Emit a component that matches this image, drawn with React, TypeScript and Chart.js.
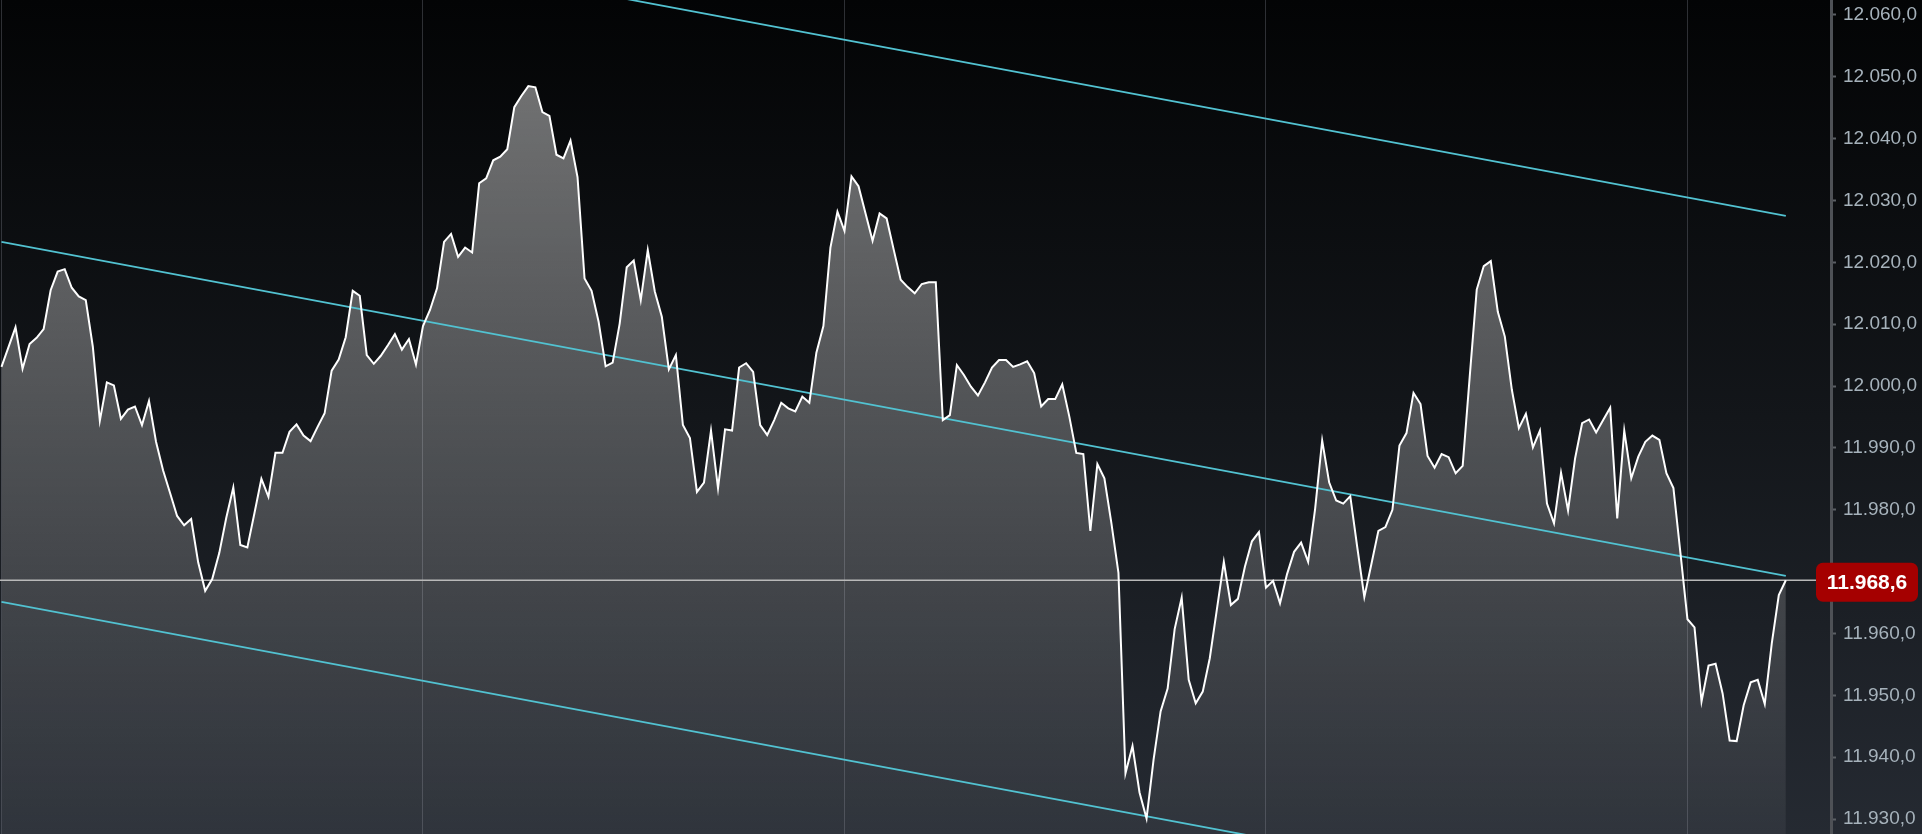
import { useEffect, useRef } from "react";
import Chart from "chart.js/auto";

// price series (one value per bar)
const prices = [
  12003.1, 12006.3, 12009.5, 12002.8, 12006.8, 12007.8, 12009.2, 12015.5, 12018.5, 12018.9,
  12015.9, 12014.5, 12013.9, 12006.4, 11994.4, 12000.6, 12000.1, 11994.7, 11996.2, 11996.7,
  11993.7, 11997.6, 11991.0, 11986.4, 11982.7, 11979.0, 11977.5, 11978.5, 11971.5, 11966.9,
  11968.8, 11973.0, 11978.7, 11983.6, 11974.3, 11973.9, 11979.4, 11985.0, 11982.1, 11989.2,
  11989.2, 11992.6, 11993.8, 11992.0, 11991.1, 11993.4, 11995.6, 12002.5, 12004.3, 12007.9,
  12015.4, 12014.6, 12005.0, 12003.6, 12004.9, 12006.6, 12008.4, 12005.9, 12007.6, 12003.5,
  12009.7, 12012.3, 12015.8, 12023.3, 12024.6, 12020.9, 12022.4, 12021.6, 12032.8, 12033.6,
  12036.5, 12037.1, 12038.3, 12045.1, 12046.9, 12048.5, 12048.3, 12044.3, 12043.7, 12037.4,
  12036.8, 12039.7, 12033.8, 12017.4, 12015.4, 12010.4, 12003.2, 12003.8, 12010.1, 12019.2,
  12020.3, 12013.9, 12022.0, 12015.3, 12011.2, 12002.7, 12005.0, 11993.7, 11991.6, 11982.9,
  11984.4, 11992.8, 11983.5, 11993.0, 11992.8, 12003.0, 12003.7, 12002.3, 11993.7, 11992.1,
  11994.5, 11997.3, 11996.4, 11995.9, 11998.3, 11997.3, 12005.4, 12009.7, 12022.4, 12028.2,
  12025.1, 12033.9, 12032.3, 12027.9, 12023.5, 12027.9, 12027.1, 12022.1, 12017.2, 12016.0,
  12015.0, 12016.5, 12016.8, 12016.8, 11994.5, 11995.3, 12003.4, 12001.8, 11999.9, 11998.5,
  12000.6, 12003.0, 12004.2, 12004.2, 12003.1, 12003.5, 12004.0, 12002.1, 11996.7, 11997.9,
  11997.9, 12000.3, 11995.1, 11989.2, 11989.0, 11976.6, 11987.4, 11985.1, 11977.8, 11969.8,
  11937.4, 11941.8, 11934.3, 11930.1, 11939.6, 11947.4, 11951.1, 11960.7, 11965.8, 11952.5,
  11948.7, 11950.6, 11956.0, 11963.8, 11971.6, 11964.6, 11965.6, 11970.8, 11974.9, 11976.4,
  11967.4, 11968.5, 11964.9, 11969.6, 11973.2, 11974.7, 11971.6, 11980.2, 11991.2, 11984.4,
  11981.5, 11981.0, 11982.2, 11973.9, 11965.9, 11971.2, 11976.6, 11977.2, 11980.0, 11990.4,
  11992.4, 11998.9, 11997.1, 11988.7, 11986.8, 11989.0, 11988.5, 11985.9, 11987.1, 12001.5,
  12015.6, 12019.4, 12020.2, 12012.0, 12008.0, 11999.4, 11993.2, 11995.5, 11990.1, 11992.8,
  11981.0, 11977.8, 11986.0, 11979.9, 11988.3, 11994.0, 11994.6, 11992.5, 11994.5, 11996.5,
  11978.6, 11992.8, 11985.1, 11988.6, 11991.0, 11992.0, 11991.3, 11985.9, 11983.5, 11973.0,
  11962.3, 11961.0, 11949.0, 11954.8, 11955.1, 11950.3, 11942.7, 11942.6, 11948.4, 11952.1,
  11952.5, 11948.6, 11958.4, 11966.2, 11968.6,
];

// trend channel: value at first bar and at last bar
const channelUpper = [12081.5, 12027.5];
const channelMiddle = [12023.3, 11969.3];
const channelLower = [11965.1, 11911.1];

// vertical grid every 60 bars
const timeGrid = [0, 60, 120, 180, 240];
// price axis ticks
const priceTicks = [
  11930, 11940, 11950, 11960, 11970, 11980, 11990, 12000, 12010, 12020, 12030, 12040, 12050, 12060,
];

const X_MIN = -0.21;
const X_MAX = 260.43;
const Y_MIN = 11927.58;
const Y_MAX = 12062.42;

const lastIdx = prices.length - 1;
const lastPrice = prices[lastIdx];

// 12060 -> "12.060,0"
function fmt(v: number) {
  const [i, d] = v.toFixed(1).split(".");
  return i.replace(/\B(?=(\d{3})+(?!\d))/g, ".") + "," + d;
}

const channel = (pair: number[]) => [
  { x: 0, y: pair[0] },
  { x: lastIdx, y: pair[1] },
];

export default function App() {
  const canvasRef = useRef<HTMLCanvasElement>(null);
  const chartRef = useRef<Chart | null>(null);

  useEffect(() => {
    if (!canvasRef.current) return;
    chartRef.current?.destroy();

    // red last-price label on the right axis
    const lastLabel = {
      id: "lastLabel",
      afterDraw(chart: any) {
        const { ctx, chartArea } = chart;
        const y = chart.scales.y.getPixelForValue(lastPrice) + 2;
        const left = chartArea.right - 15;
        const w = chart.width - 4 - left;
        const h = 39;
        ctx.save();
        ctx.fillStyle = "#a50000";
        ctx.beginPath();
        ctx.roundRect(left, y - h / 2, w, h, 7);
        ctx.fill();
        ctx.fillStyle = "#ffffff";
        ctx.font = "bold 21px 'Liberation Sans', Arial, sans-serif";
        ctx.textAlign = "center";
        ctx.textBaseline = "middle";
        ctx.fillText(fmt(lastPrice), left + w / 2, y + 1);
        ctx.restore();
      },
    };

    chartRef.current = new Chart(canvasRef.current, {
      type: "line",
      data: {
        datasets: [
          {
            data: prices.map((v, i) => ({ x: i, y: v })),
            borderColor: "#ffffff",
            borderWidth: 2,
            pointRadius: 0,
            tension: 0,
            fill: "start",
            backgroundColor: (c: any) => {
              const area = c.chart.chartArea;
              if (!area) return "rgba(255,255,255,0.2)";
              const g = c.chart.ctx.createLinearGradient(0, area.top, 0, area.bottom);
              g.addColorStop(0, "rgba(255,255,255,0.47)");
              g.addColorStop(1, "rgba(255,255,255,0.05)");
              return g;
            },
            order: 1,
          },
          {
            data: channel(channelUpper),
            borderColor: "#52c2d1",
            borderWidth: 1.8,
            pointRadius: 0,
            fill: false,
            order: 2,
          },
          {
            data: channel(channelMiddle),
            borderColor: "#52c2d1",
            borderWidth: 1.8,
            pointRadius: 0,
            fill: false,
            order: 2,
          },
          {
            data: channel(channelLower),
            borderColor: "#52c2d1",
            borderWidth: 1.8,
            pointRadius: 0,
            fill: false,
            order: 2,
          },
          {
            data: [
              { x: X_MIN, y: lastPrice },
              { x: X_MAX, y: lastPrice },
            ],
            borderColor: "#b9b9b9",
            borderWidth: 1.5,
            pointRadius: 0,
            fill: false,
            order: 3,
          },
        ],
      },
      options: {
        animation: false,
        responsive: true,
        maintainAspectRatio: false,
        layout: { padding: 0 },
        plugins: {
          legend: { display: false },
          tooltip: { enabled: false },
          filler: { drawTime: "beforeDatasetsDraw" },
        },
        scales: {
          x: {
            type: "linear",
            min: X_MIN,
            max: X_MAX,
            afterBuildTicks: (s: any) => {
              s.ticks = timeGrid.map((v) => ({ value: v }));
            },
            afterFit: (s: any) => {
              s.height = 0;
            },
            ticks: { display: false },
            grid: { color: "rgba(125,130,140,0.35)", lineWidth: 1, drawTicks: false },
            border: { display: false },
          },
          y: {
            position: "right",
            min: Y_MIN,
            max: Y_MAX,
            afterBuildTicks: (s: any) => {
              s.ticks = priceTicks.map((v) => ({ value: v }));
            },
            afterFit: (s: any) => {
              s.width = 91;
              s.paddingTop = 0;
              s.paddingBottom = 0;
            },
            ticks: {
              color: "#a6b2bb",
              padding: 7,
              font: { family: "'Liberation Sans', Arial, sans-serif", size: 19 },
              callback: (v: any) => fmt(Number(v)),
            },
            grid: {
              drawOnChartArea: false,
              drawTicks: true,
              tickLength: 5,
              tickWidth: 2,
              color: "#5b5f64",
            },
            border: { display: true, color: "#4e5156", width: 3 },
          },
        },
      },
      plugins: [lastLabel],
    });

    return () => {
      chartRef.current?.destroy();
    };
  }, []);

  return (
    <div
      style={{
        position: "fixed",
        left: 0,
        top: 0,
        width: "1922px",
        height: "834px",
        background: "linear-gradient(to bottom, #030405 0%, #13161a 50%, #252a32 100%)",
      }}
    >
      <canvas ref={canvasRef} />
    </div>
  );
}
